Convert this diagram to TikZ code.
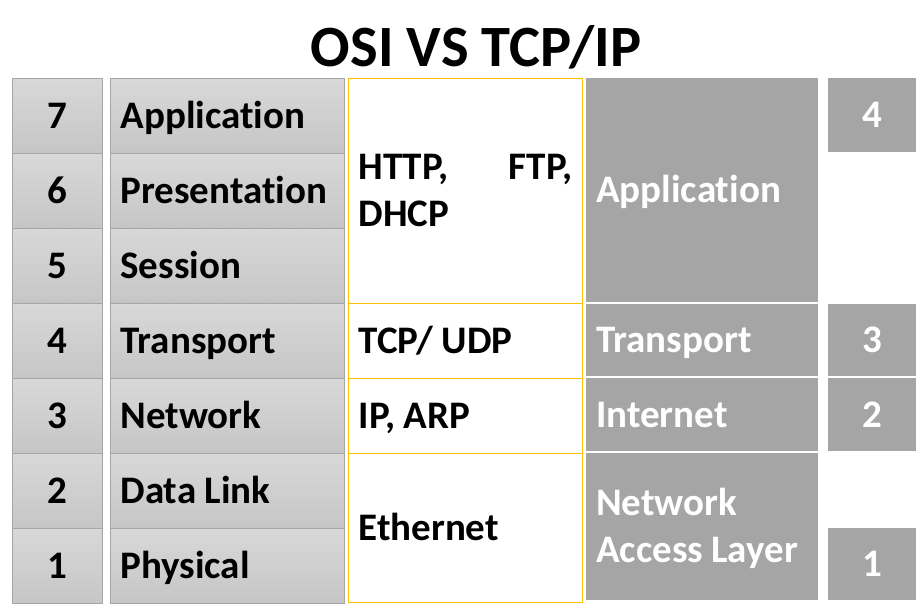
\documentclass[tikz,border=0pt]{standalone}
\usepackage{fontspec}
\setmainfont{Carlito}[Ligatures=NoCommon]
\definecolor{layergray}{HTML}{A5A5A5}
\definecolor{framegold}{HTML}{FFC000}
\definecolor{cellline}{HTML}{A6A6A6}
\definecolor{celltop}{HTML}{D8D8D8}
\definecolor{cellbottom}{HTML}{C6C6C6}
\tikzset{
	bigtext/.style={font=\fontsize{39}{47}\selectfont\bfseries,
		execute at begin node={\spaceskip=0.21em plus 2em\relax}},
	capline/.style={text height=24.6pt, text depth=0pt},
	osicell/.style={draw=cellline, line width=1pt, top color=celltop, bottom color=cellbottom,
		anchor=north west, inner ysep=0pt, minimum height=75pt, bigtext, capline,
		path picture={\draw[dotted, cellline!70] ([xshift=4pt,yshift=3pt]path picture bounding box.south west)
			-- ([xshift=-4pt,yshift=3pt]path picture bounding box.south east);}},
	numcell/.style={minimum width=90pt, inner xsep=0pt, align=center},
	namecell/.style={minimum width=234pt, text width=214pt, inner xsep=10pt, align=left},
	protobox/.style={draw=framegold, line width=1.2pt, anchor=north west, minimum width=234pt,
		text width=214pt, inner xsep=10pt, inner ysep=0pt, bigtext, capline},
	tcpbox/.style={fill=layergray, text=white, anchor=north west, minimum width=232pt,
		text width=212pt, inner xsep=10pt, inner ysep=0pt, align=left, bigtext, capline},
	tcpnum/.style={fill=layergray, text=white, anchor=north west, minimum width=88pt,
		inner sep=0pt, align=center, bigtext, capline}
}
\begin{document}
\begin{tikzpicture}[x=1pt, y=-1pt]
	\useasboundingbox (0,0) rectangle (923,605);
	\node[anchor=base, font=\fontsize{58.5}{62}\selectfont\bfseries] (title) at (476,66) {OSI VS TCP/IP};
	% OSI model
	\foreach \n/\name [count=\i from 0] in {7/Application, 6/Presentation, 5/Session, 4/Transport, 3/Network, 2/Data Link, 1/Physical} {
		\node[osicell, numcell] (osinum\n) at (12,{78+75*\i}) {\n};
		\node[osicell, namecell] (osiname\n) at (110,{78+75*\i}) {\name};
	}
	% protocols
	\node[protobox, minimum height=225pt, align=justify, text depth=47pt] (protoapp) at (348,78) {HTTP, FTP, DHCP};
	\node[protobox, minimum height=75pt, align=left] (prototrans) at (348,303) {TCP/ UDP};
	\node[protobox, minimum height=75pt, align=left] (protonet) at (348,378) {IP, ARP};
	\node[protobox, minimum height=149pt, align=left] (protolink) at (348,453) {Ethernet};
	% TCP/IP model
	\node[tcpbox, minimum height=224pt] (tcpapp) at (586,78) {Application};
	\node[tcpbox, minimum height=72pt] (tcptrans) at (586,304) {Transport};
	\node[tcpbox, minimum height=73pt] (tcpnet) at (586,378) {Internet};
	\node[tcpbox, minimum height=147pt, text depth=47pt] (tcplink) at (586,453) {Network\\Access Layer};
	\node[tcpnum, minimum height=74pt] (tcpnum4) at (828,78) {4};
	\node[tcpnum, minimum height=72pt] (tcpnum3) at (828,304) {3};
	\node[tcpnum, minimum height=73pt] (tcpnum2) at (828,378) {2};
	\node[tcpnum, minimum height=72pt] (tcpnum1) at (828,528) {1};
\end{tikzpicture}
\end{document}
